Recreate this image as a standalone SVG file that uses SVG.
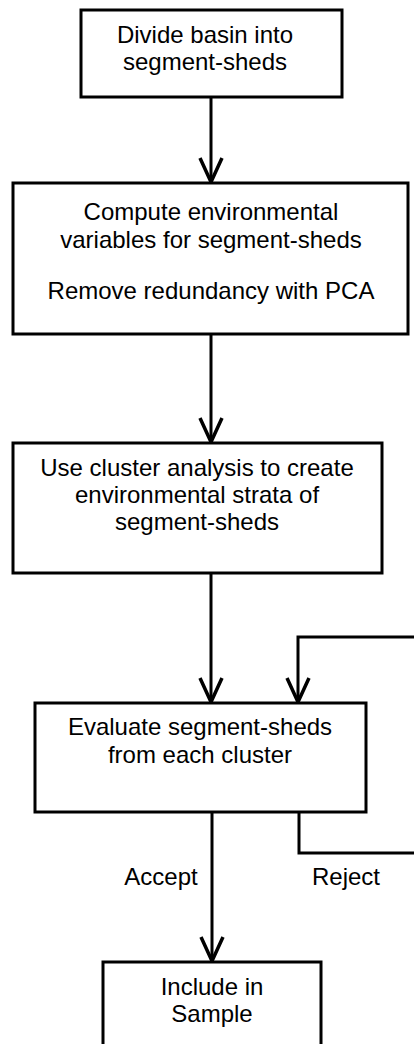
<svg xmlns="http://www.w3.org/2000/svg" width="414" height="1044" viewBox="0 0 414 1044">
  <style>
    .box { fill: #fff; stroke: #000; stroke-width: 3; }
    .lbl { font-family: "Liberation Sans", Arial, sans-serif; font-size: 24px; fill: #000; text-anchor: middle; }
    .edge { fill: none; stroke: #000; stroke-width: 3; }
    .head { fill: none; stroke: #000; stroke-width: 3.5; }
  </style>
  <rect width="414" height="1044" fill="#fff"/>

  <g id="connectors">
    <!-- shafts -->
    <path class="edge" d="M 211 97 V 182"/>
    <path class="edge" d="M 211 335 V 442"/>
    <path class="edge" d="M 211 573 V 702"/>
    <path class="edge" d="M 414 637 H 298 V 702"/>
    <path class="edge" d="M 299 812 V 853 H 414"/>
    <path class="edge" d="M 212 812 V 961"/>
    <!-- open V heads -->
    <path class="head" d="M 200 158 L 211 182 L 222 158"/>
    <path class="head" d="M 200 418 L 211 442 L 222 418"/>
    <path class="head" d="M 200 678 L 211 702 L 222 678"/>
    <path class="head" d="M 287 678 L 298 702 L 309 678"/>
    <path class="head" d="M 201 937 L 212 961 L 223 937"/>
  </g>

  <g id="divide">
    <rect class="box" x="81" y="10" width="261" height="87"/>
    <text class="lbl" x="205" y="43">Divide basin into</text>
    <text class="lbl" x="205" y="70">segment-sheds</text>
  </g>

  <g id="compute">
    <rect class="box" x="13" y="183" width="395" height="151"/>
    <text class="lbl" x="211" y="220">Compute environmental</text>
    <text class="lbl" x="211" y="248">variables for segment-sheds</text>
    <text class="lbl" x="211" y="299">Remove redundancy with PCA</text>
  </g>

  <g id="cluster">
    <rect class="box" x="13" y="443" width="369" height="130"/>
    <text class="lbl" x="197" y="476">Use cluster analysis to create</text>
    <text class="lbl" x="197" y="503">environmental strata of</text>
    <text class="lbl" x="197" y="530">segment-sheds</text>
  </g>

  <g id="evaluate">
    <rect class="box" x="35" y="703" width="331" height="109"/>
    <text class="lbl" x="200" y="735">Evaluate segment-sheds</text>
    <text class="lbl" x="200" y="763">from each cluster</text>
  </g>

  <g id="labels">
    <text class="lbl" x="161" y="885">Accept</text>
    <text class="lbl" x="346" y="885">Reject</text>
  </g>

  <g id="include">
    <rect class="box" x="103" y="962" width="218" height="100"/>
    <text class="lbl" x="212" y="995">Include in</text>
    <text class="lbl" x="212" y="1022">Sample</text>
  </g>
</svg>
